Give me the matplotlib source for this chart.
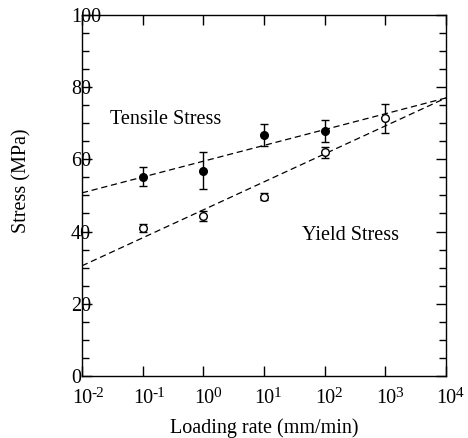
import matplotlib

matplotlib.use("Agg")
import matplotlib.pyplot as plt
from matplotlib.ticker import FixedLocator, MultipleLocator, NullLocator

plt.rcParams["font.family"] = ["Liberation Serif", "DejaVu Serif"]

# measured points
tensile_rate = [0.1, 1, 10, 100]
tensile_stress = [55.2, 56.9, 66.8, 67.9]
tensile_err = [2.6, 5.0, 3.0, 3.0]

yield_rate = [0.1, 1, 10, 100, 1000]
yield_stress = [41.0, 44.3, 49.7, 61.9, 71.4]
yield_err = [1.0, 1.5, 1.0, 1.4, 4.0]

# fitted trend lines (end points)
fit_rate = [1e-2, 1e4]
tensile_fit = [50.7, 77.0]
yield_fit = [30.5, 77.0]

decades = [1e-2, 1e-1, 1e0, 1e1, 1e2, 1e3, 1e4]
exponents = ["-2", "-1", "0", "1", "2", "3", "4"]

fig = plt.figure(figsize=(4.68, 4.38), dpi=100)
ax = fig.add_axes([0.175, 0.1416, 0.778, 0.8244])

ax.plot(fit_rate, tensile_fit, color="black", lw=0.9, dashes=(5, 3))
ax.plot(fit_rate, yield_fit, color="black", lw=0.9, dashes=(5, 3))

ax.errorbar(tensile_rate, tensile_stress, yerr=tensile_err, fmt="o", color="black",
            mfc="black", ms=5.5, capsize=3, elinewidth=1, capthick=1)
ax.errorbar(yield_rate, yield_stress, yerr=yield_err, fmt="o", color="black",
            mfc="white", ms=5.5, capsize=3, elinewidth=1, capthick=1)

ax.text(10 ** -1.54, 70.9, "Tensile Stress", fontsize=14.5, va="center", ha="left")
ax.text(10 ** 1.62, 39.0, "Yield Stress", fontsize=14.5, va="center", ha="left")

ax.set_xscale("log")
ax.set_xlim(1e-2, 1e4)
ax.set_ylim(0, 100)
ax.xaxis.set_major_locator(FixedLocator(decades))
ax.set_xticklabels([""] * len(decades))
ax.xaxis.set_minor_locator(NullLocator())
ax.yaxis.set_major_locator(MultipleLocator(20))
ax.yaxis.set_minor_locator(MultipleLocator(5))

# decade labels drawn as base + raised exponent, hyphen kept as in the original
trans = ax.get_xaxis_transform()
for d, e in zip(decades, exponents):
    ax.annotate("10", xy=(d, 0), xycoords=trans, xytext=(0.5, -19.5), textcoords="offset points",
                ha="center", va="baseline", fontsize=14.5)
    ax.annotate(e, xy=(d, 0), xycoords=trans, xytext=(7, -15), textcoords="offset points",
                ha="left", va="baseline", fontsize=11)

ax.tick_params(which="both", direction="in", top=True, right=True, width=1)
ax.tick_params(which="major", length=7)
ax.tick_params(which="minor", length=5)
ax.tick_params(axis="y", labelsize=14.5, pad=8)
for lab in ax.get_yticklabels():
    lab.set_horizontalalignment("left")

for s in ax.spines.values():
    s.set_linewidth(1)

ax.set_xlabel("Loading rate (mm/min)", fontsize=14.5, labelpad=27)
ax.set_ylabel("Stress (MPa)", fontsize=14.5)
ax.yaxis.set_label_coords(-0.138, 0.54)

fig.savefig("out.png", dpi=100)
